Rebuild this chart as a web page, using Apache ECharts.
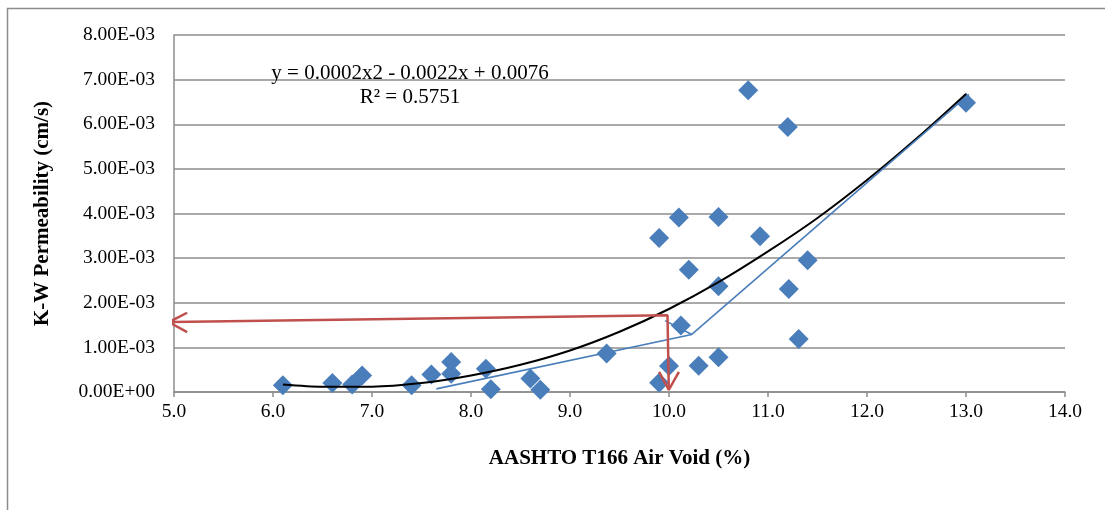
<!DOCTYPE html>
<html>
<head>
<meta charset="utf-8">
<script src="https://cdn.jsdelivr.net/npm/echarts@6/dist/echarts.min.js"></script>
<style>
  html, body { margin: 0; padding: 0; background: #fff; }
  #chart { width: 1105px; height: 510px; }
</style>
</head>
<body>
<div id="chart"></div>
<script>
// ---- Data ----
const airVoid = [6.10, 6.60, 6.80, 6.90, 7.40, 7.60, 7.80, 7.80, 8.15, 8.20, 8.60, 8.70, 9.37,
                 9.90, 10.10, 10.50, 10.92, 10.20, 10.50, 11.40, 11.21, 10.12, 11.31, 10.00,
                 10.30, 10.50, 9.90, 10.80, 11.20, 13.00];
const permeability = [0.00015, 0.00020, 0.00017, 0.00037, 0.00015, 0.00039, 0.00067, 0.00041,
                      0.00052, 0.00006, 0.00030, 0.00005, 0.00086,
                      0.00345, 0.00391, 0.00392, 0.00349, 0.00274, 0.00237, 0.00295, 0.00231,
                      0.00149, 0.00119, 0.00058, 0.00059, 0.00078, 0.00021, 0.00676, 0.00594,
                      0.00648];

// Polynomial trendline as drawn in the picture
const trendX = [6.1, 6.5, 7.0, 7.5, 8.0, 8.5, 9.0, 9.5, 10.0, 10.5, 11.0, 11.5, 12.0, 12.5, 13.0];
const trendY = [0.00017, 0.00012, 0.00012, 0.00020, 0.00037, 0.00061, 0.00093, 0.00135, 0.00186,
                0.00246, 0.00315, 0.00390, 0.00475, 0.00568, 0.00668];

// Hand-drawn blue lines
const blueLineX = [7.65, 10.23, 13.03];
const blueLineY = [0.00007, 0.00129, 0.00667];
const blueTickX = [9.96, 10.23];
const blueTickY = [0.00160, 0.00129];

// Red arrows (reading 10.0 % air void onto the curve)
const redPathX = [4.947, 9.985, 9.998];
const redPathY = [0.001565, 0.00172, 0.00005];
const redHeadLeftX = [5.133, 4.947, 5.133];
const redHeadLeftY = [0.001776, 0.001565, 0.001341];
const redHeadDownX = [9.900, 9.998, 10.100];
const redHeadDownY = [0.000450, 0.000049, 0.000450];

// Axis ticks
const xMin = 5, xMax = 14, xStep = 1;
const yMin = 0, yMax = 0.008, yStep = 0.001;

const equationText = 'y = 0.0002x2 - 0.0022x + 0.0076';
const r2Text = 'R\u00B2 = 0.5751';
const xTitle = 'AASHTO T166 Air Void (%)';
const yTitle = 'K-W Permeability (cm/s)';

// ---- Build chart ----
const zip = (xs, ys) => xs.map((x, i) => [x, ys[i]]);
const serif = '"Liberation Serif", "Times New Roman", serif';

function fmtSci(v) {
  if (Math.abs(v) < 1e-12) return '0.00E+00';
  const parts = v.toExponential(2).split('e');
  const n = parseInt(parts[1], 10);
  return parts[0] + 'E' + (n < 0 ? '-' : '+') + String(Math.abs(n)).padStart(2, '0');
}

const chart = echarts.init(document.getElementById('chart'), null, { renderer: 'canvas' });

const lineBase = { type: 'line', symbol: 'none', clip: false, silent: true, z: 5, animation: false };

chart.setOption({
  animation: false,
  backgroundColor: '#fff',
  grid: { left: 174, right: 40, top: 35, bottom: 118, containLabel: false },
  xAxis: {
    type: 'value', min: xMin, max: xMax, interval: xStep,
    axisLine: { show: true, onZero: false, lineStyle: { color: '#8c8c8c', width: 1.5 } },
    axisTick: { show: true, length: 5, inside: false, lineStyle: { color: '#8c8c8c', width: 1.5 } },
    splitLine: { show: false },
    axisLabel: { color: '#000', fontFamily: serif, fontSize: 19.5, margin: 10,
                 formatter: v => v.toFixed(1) },
    name: xTitle, nameLocation: 'middle', nameGap: 56,
    nameTextStyle: { color: '#000', fontFamily: serif, fontSize: 21, fontWeight: 'bold' }
  },
  yAxis: {
    type: 'value', min: yMin, max: yMax, interval: yStep,
    axisLine: { show: true, onZero: false, lineStyle: { color: '#8c8c8c', width: 1.5 } },
    axisTick: { show: false },
    splitLine: { show: true, lineStyle: { color: '#8c8c8c', width: 1.5 } },
    axisLabel: { color: '#000', fontFamily: serif, fontSize: 19.5, margin: 19, formatter: fmtSci },
    name: yTitle, nameLocation: 'middle', nameGap: 121, nameRotate: 90,
    nameTextStyle: { color: '#000', fontFamily: serif, fontSize: 21, fontWeight: 'bold' }
  },
  graphic: [
    { type: 'rect', left: 5, top: 6, silent: true, z: -10,
      shape: { x: 0, y: 0, width: 1300, height: 700 },
      style: { fill: 'none', stroke: '#8c8c8c', lineWidth: 1.5 } },
    { type: 'text', x: 410, y: 73, z: 10, silent: true,
      style: { text: equationText, font: '21px ' + serif, fill: '#000',
               textAlign: 'center', textVerticalAlign: 'middle' } },
    { type: 'text', x: 410, y: 97, z: 10, silent: true,
      style: { text: r2Text, font: '21px ' + serif, fill: '#000',
               textAlign: 'center', textVerticalAlign: 'middle' } }
  ],
  series: [
    { type: 'scatter', data: zip(airVoid, permeability), symbol: 'diamond', symbolSize: 20,
      itemStyle: { color: '#4a7ebb', opacity: 1 }, z: 2, silent: true },
    Object.assign({}, lineBase, { data: zip(trendX, trendY), smooth: 0.3,
      lineStyle: { color: '#000', width: 2 } }),
    Object.assign({}, lineBase, { data: zip(blueLineX, blueLineY),
      lineStyle: { color: '#4a7ebb', width: 1.6 } }),
    Object.assign({}, lineBase, { data: zip(blueTickX, blueTickY),
      lineStyle: { color: '#4a7ebb', width: 1.6 } }),
    Object.assign({}, lineBase, { data: zip(redPathX, redPathY), z: 6,
      lineStyle: { color: '#c0504d', width: 2.5 } }),
    Object.assign({}, lineBase, { data: zip(redHeadLeftX, redHeadLeftY), z: 6,
      lineStyle: { color: '#c0504d', width: 2.5 } }),
    Object.assign({}, lineBase, { data: zip(redHeadDownX, redHeadDownY), z: 6,
      lineStyle: { color: '#c0504d', width: 2.5 } })
  ]
});
</script>
</body>
</html>
